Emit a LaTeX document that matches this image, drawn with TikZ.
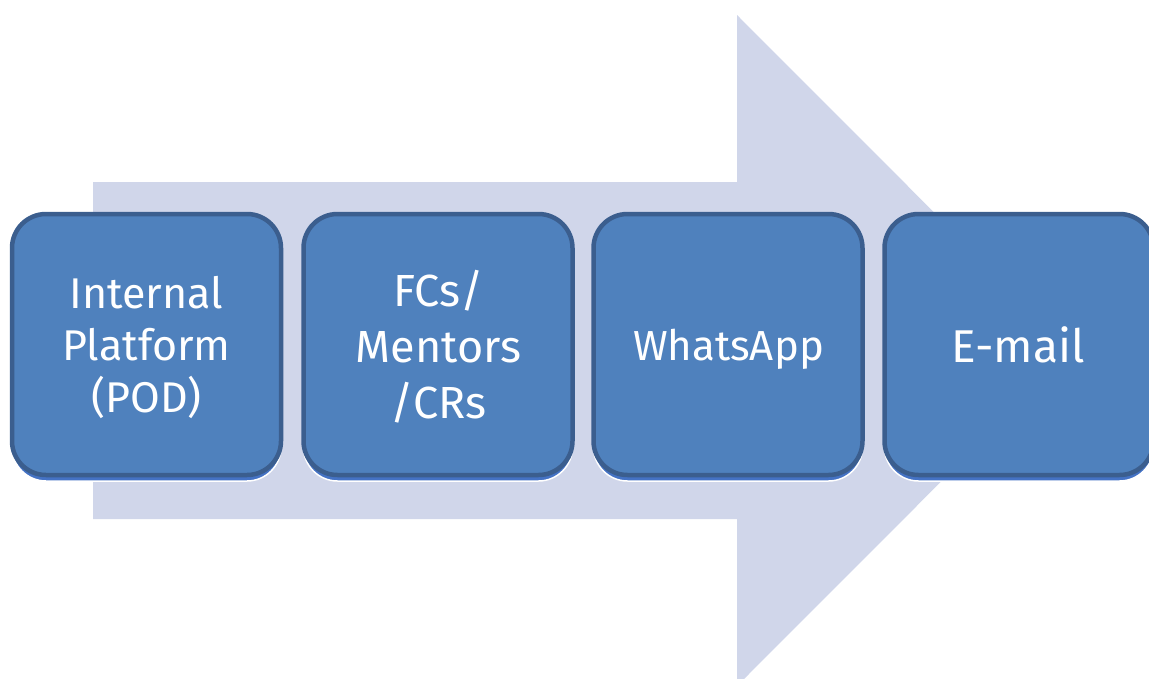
\documentclass[tikz,border=0pt]{standalone}
\usepackage{fontspec}
\setmainfont{Fira Sans}
\usetikzlibrary{shadows}
\definecolor{arrowfill}{HTML}{D0D6EA}
\definecolor{boxfill}{HTML}{4F81BD}
\definecolor{boxline}{HTML}{3B5E8E}
\definecolor{shadowblue}{HTML}{4472C4}
\tikzset{
  stagebox/.style={rounded corners=34pt, fill=boxfill, draw=boxline, line width=4.5pt,
    minimum width=269pt, minimum height=261pt, inner sep=0pt,
    general shadow={shadow yshift=-6pt, fill=shadowblue, draw=white, line width=1.5pt}},
  stagetext/.style={text=white, align=center, inner sep=0pt},
  bigarrow/.style={fill=arrowfill, draw=none}
}
\begin{document}
\begin{tikzpicture}[x=1pt,y=-1pt]
\useasboundingbox (0,0) rectangle (1149,678);
\fill[bigarrow] (93,182) -- (737,182) -- (737,15) -- (1072,350.5) -- (737,686) -- (737,519) -- (93,519) -- cycle;
\node[stagebox] (b1) at (146.5,344.5) {};
\node[stagebox] (b2) at (438,344.5) {};
\node[stagebox] (b3) at (728,344.5) {};
\node[stagebox] (b4) at (1019,344.5) {};
\node[stagetext, font=\fontsize{43}{52}\selectfont] (t1) at (146.5,347) {Internal\\Platform\\(POD)};
\node[stagetext, font=\fontsize{45}{56}\selectfont] (t2) at (438.5,346.5) {FCs/\\Mentors\\/CRs};
\node[stagetext, font=\fontsize{42}{52}\selectfont] (t3) at (728.5,349.5) {WhatsApp};
\node[stagetext, font=\fontsize{46}{52}\selectfont] (t4) at (1018,344.5) {E-mail};
\end{tikzpicture}
\end{document}
